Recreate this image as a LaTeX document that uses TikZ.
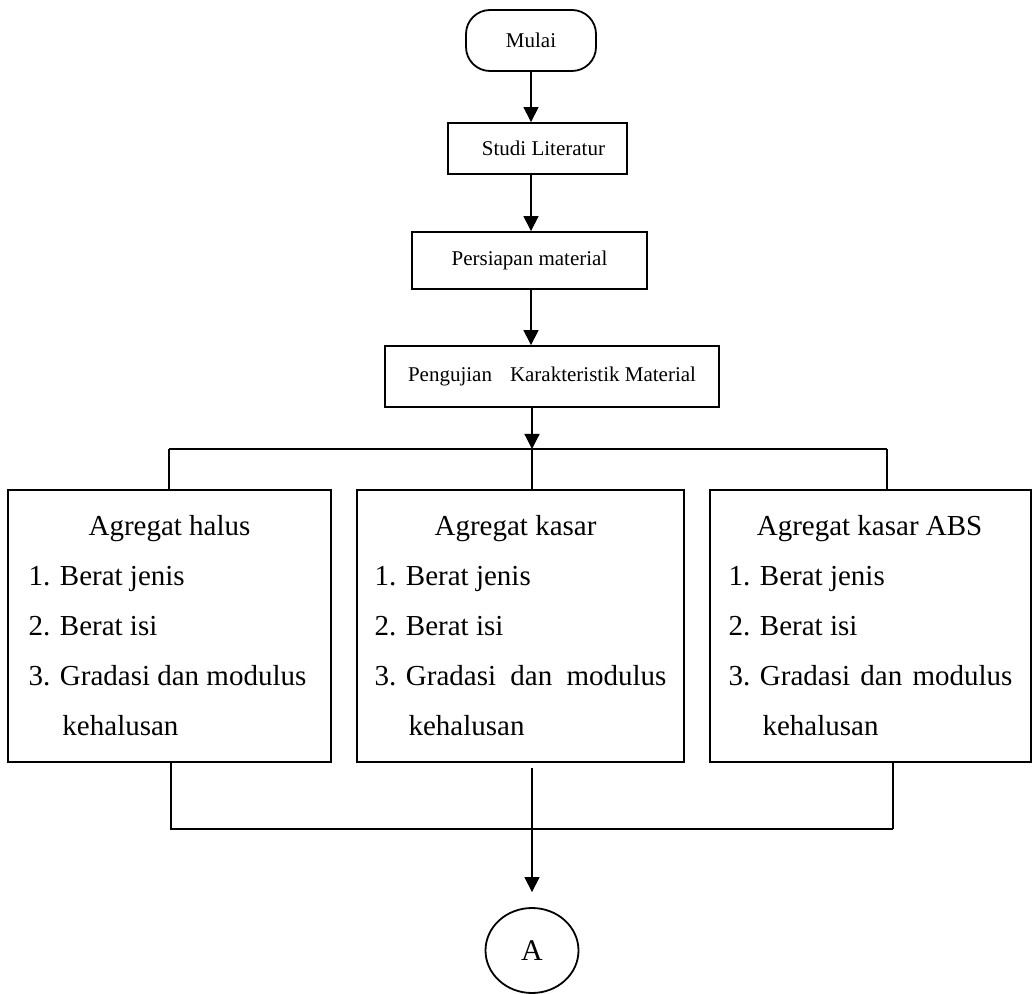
\documentclass[tikz,border=0pt]{standalone}
\usepackage{fontspec}
\setmainfont{Liberation Serif}
\usepackage{tikz}
\usetikzlibrary{arrows.meta,positioning,calc,shapes.geometric}
\tikzstyle{stepbox}=[draw,rectangle,line width=0.9pt,inner sep=0pt,font=\fontsize{10.5}{12}\selectfont]
\tikzstyle{terminal}=[stepbox,rounded corners=12pt]
\tikzstyle{aggbox}=[draw,rectangle,line width=0.9pt,inner sep=0pt,align=left,font=\fontsize{14.5}{25}\selectfont]
\tikzstyle{link}=[line width=0.6pt]
\tikzstyle{arr}=[line width=0.6pt,-{Triangle[length=7.5pt,width=7.5pt]}]
\newcommand{\aggtitle}[1]{\makebox[141pt][c]{#1}}

\begin{document}
\begin{tikzpicture}[x=0.5pt,y=-0.5pt]
\useasboundingbox (0,0) rectangle (1033,994);
\node [terminal,minimum width=65pt,minimum height=30.5pt] (mulai) at (531,40.5) {Mulai};
\node [stepbox,minimum width=89.5pt,minimum height=25.5pt] (studi) at (537.5,148.5) {\hspace{6pt}Studi Literatur};
\node [stepbox,minimum width=117.5pt,minimum height=28.5pt] (persiapan) at (529.5,260.5) {Persiapan material};
\node [stepbox,minimum width=167pt,minimum height=30.5pt] (pengujian) at (552,376.5) {Pengujian\hspace{9pt}Karakteristik Material\\[-3pt]};

\node [aggbox,minimum width=161.5pt,minimum height=136pt] (halus) at (169.5,626) {\aggtitle{Agregat halus}\\
	1. Berat jenis\\
	2. Berat isi\\
	3. Gradasi dan modulus\\
	\hspace*{17pt}kehalusan};
\node [aggbox,minimum width=163.5pt,minimum height=136pt] (kasar) at (520.5,626) {\aggtitle{Agregat kasar}\\
	1. Berat jenis\\
	2. Berat isi\\
	3. Gradasi \hspace{3.5pt}dan \hspace{3.5pt}modulus\\
	\hspace*{17pt}kehalusan};
\node [aggbox,minimum width=160.5pt,minimum height=136pt] (kasarabs) at (870.5,626) {\aggtitle{Agregat kasar ABS}\\
	1. Berat jenis\\
	2. Berat isi\\
	3. Gradasi \hspace{1.5pt}dan \hspace{1.5pt}modulus\\
	\hspace*{17pt}kehalusan};

\node [draw,ellipse,line width=0.9pt,inner sep=0pt,minimum width=46.5pt,minimum height=42.5pt,font=\fontsize{15}{18}\selectfont] (akhir) at (532,950.5) {A};

\coordinate (split) at (532,449);
\coordinate (splitL) at (169,449);
\coordinate (splitR) at (887,449);
\coordinate (join) at (532,829);
\coordinate (joinL) at (171,829);
\coordinate (joinR) at (893,829);

\draw [arr] (mulai.south) -- (mulai.south |- studi.north);
\draw [arr] (studi.south -| mulai) -- (persiapan.north -| mulai);
\draw [arr] (persiapan.south -| mulai) -- (pengujian.north -| mulai);
\draw [arr] (pengujian.south -| split) -- (split);
\draw [link] (splitL) -- (splitR);
\draw [link] (splitL) -- (splitL |- halus.north);
\draw [link] (split) -- (split |- kasar.north);
\draw [link] (splitR) -- (splitR |- kasarabs.north);
\draw [link] (joinL |- halus.south) -- (joinL) -- (joinR);
\draw [link] (joinR |- kasarabs.south) -- (joinR);
\draw [arr,shorten <=2.5pt] (join |- kasar.south) -- ([yshift=7.5pt]akhir.north);
\end{tikzpicture}
\end{document}
